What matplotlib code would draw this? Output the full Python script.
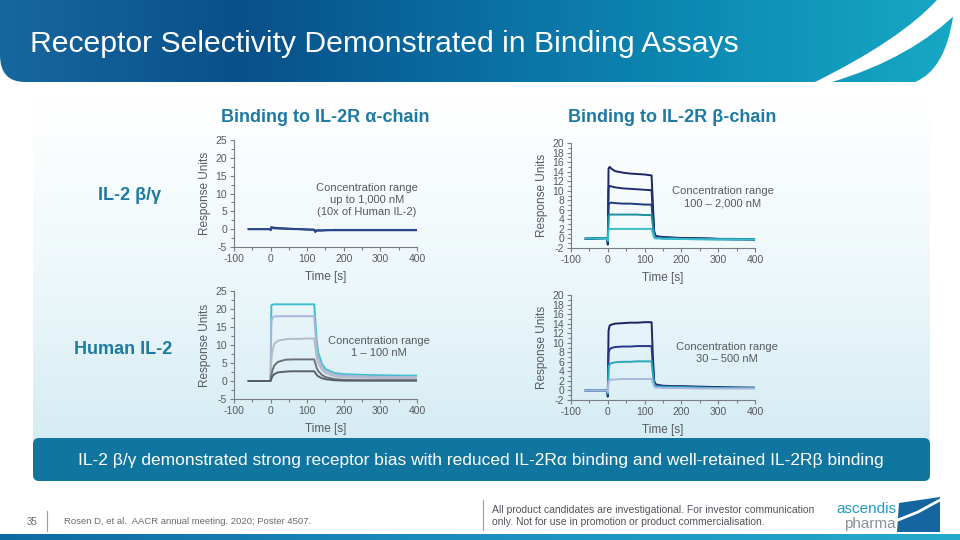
import numpy as np
import matplotlib.pyplot as plt
from matplotlib.path import Path
from matplotlib.patches import PathPatch, FancyBboxPatch
from matplotlib.colors import LinearSegmentedColormap
from matplotlib.ticker import MultipleLocator

plt.rcParams['font.family'] = ['Liberation Sans', 'DejaVu Sans']
plt.rcParams['axes.unicode_minus'] = False

# --- data ---
time_s = [-60, -1, 0, 2, 5, 10, 20, 40, 60, 80, 100, 119, 122, 126, 130,
          140, 150, 175, 200, 250, 300, 350, 400]

# IL-2 beta/gamma on IL-2R alpha-chain (up to 1,000 nM)
alpha_bg = [
    [0.0, 0.0, -0.3, 0.6, 0.5, 0.4, 0.3, 0.2, 0.1, 0.0, -0.1, -0.2, -0.8,
     -0.4, -0.4, -0.4, -0.3, -0.3, -0.3, -0.3, -0.3, -0.3, -0.3],
    [0.0, 0.0, -0.2, 0.3, 0.3, 0.2, 0.2, 0.1, 0.0, 0.0, -0.1, -0.1, -0.5,
     -0.3, -0.3, -0.3, -0.3, -0.2, -0.2, -0.2, -0.2, -0.2, -0.2],
]
alpha_bg_colors = ['#1c2b6e', '#2a4a8c']

# IL-2 beta/gamma on IL-2R beta-chain (100 - 2,000 nM)
beta_bg = [
    [-0.1, 0.1, -1.3, 14.6, 15.0, 14.6, 14.1, 13.8, 13.6, 13.5, 13.4, 13.2, 8.0,
     1.5, 0.5, 0.4, 0.3, 0.2, 0.1, 0.0, -0.1, -0.2, -0.2],
    [-0.1, 0.1, -1.0, 10.5, 11.0, 10.9, 10.7, 10.5, 10.4, 10.3, 10.2, 10.1, 6.0,
     1.2, 0.4, 0.3, 0.2, 0.1, 0.1, 0.0, -0.1, -0.1, -0.2],
    [0.0, 0.1, -0.8, 7.0, 7.4, 7.5, 7.4, 7.3, 7.3, 7.2, 7.1, 7.1, 4.3,
     0.9, 0.3, 0.2, 0.2, 0.1, 0.0, 0.0, -0.1, -0.1, -0.2],
    [0.0, 0.0, -0.6, 4.6, 5.0, 5.0, 5.0, 5.0, 5.0, 5.0, 4.9, 4.9, 3.0,
     0.6, 0.1, 0.1, 0.0, 0.0, -0.1, -0.1, -0.2, -0.2, -0.2],
    [0.0, 0.0, -0.4, 1.8, 2.0, 2.0, 2.0, 2.0, 2.0, 2.0, 2.0, 2.0, 1.2,
     0.2, 0.0, 0.0, -0.1, -0.1, -0.1, -0.2, -0.2, -0.2, -0.2],
]
beta_bg_colors = ['#1b2466', '#232d72', '#1e3a82', '#1d8f9c', '#38bccb']

# Human IL-2 on IL-2R alpha-chain (1 - 100 nM)
alpha_h = [
    [0.0, 0.0, 0.5, 21.0, 21.2, 21.3, 21.3, 21.3, 21.3, 21.3, 21.3, 21.3, 17.0,
     11.0, 8.0, 4.8, 3.3, 2.2, 1.9, 1.7, 1.6, 1.5, 1.5],
    [0.0, 0.0, 0.3, 16.5, 17.6, 17.9, 18.0, 18.0, 18.0, 18.0, 18.0, 18.0, 14.0,
     9.0, 6.5, 4.0, 2.8, 1.8, 1.5, 1.3, 1.2, 1.1, 1.1],
    [0.0, 0.0, 0.2, 6.0, 8.5, 10.3, 11.2, 11.6, 11.7, 11.7, 11.8, 11.8, 9.5,
     6.5, 5.0, 3.2, 2.2, 1.3, 1.0, 0.9, 0.8, 0.8, 0.8],
    [0.0, 0.0, 0.1, 1.5, 3.0, 4.3, 5.3, 5.9, 6.0, 6.0, 6.0, 6.0, 5.0,
     3.6, 2.8, 1.7, 1.1, 0.5, 0.3, 0.2, 0.2, 0.2, 0.2],
    [0.0, 0.0, 0.0, 0.6, 1.3, 1.9, 2.4, 2.6, 2.7, 2.7, 2.7, 2.7, 2.3,
     1.7, 1.3, 0.8, 0.5, 0.2, 0.1, 0.1, 0.1, 0.1, 0.1],
]
alpha_h_colors = ['#3dbfce', '#aab5d9', '#b7bbc2', '#6c7079', '#5a5e68']

# Human IL-2 on IL-2R beta-chain (30 - 500 nM)
beta_h = [
    [0.0, 0.0, -1.3, 12.5, 13.6, 13.8, 14.0, 14.1, 14.2, 14.2, 14.3, 14.3, 8.0,
     2.0, 1.3, 1.1, 1.0, 0.9, 0.9, 0.8, 0.7, 0.6, 0.6],
    [0.0, 0.0, -1.0, 7.8, 8.6, 8.9, 9.1, 9.2, 9.2, 9.3, 9.3, 9.3, 5.5,
     1.7, 1.1, 1.0, 0.9, 0.8, 0.8, 0.7, 0.6, 0.6, 0.5],
    [0.0, 0.0, -0.7, 4.8, 5.5, 5.7, 5.9, 6.0, 6.0, 6.1, 6.1, 6.1, 3.8,
     1.3, 0.9, 0.8, 0.8, 0.7, 0.7, 0.6, 0.5, 0.5, 0.5],
    [0.0, 0.0, -0.4, 1.8, 2.2, 2.3, 2.3, 2.4, 2.4, 2.4, 2.4, 2.4, 1.6,
     0.8, 0.6, 0.6, 0.5, 0.5, 0.5, 0.4, 0.4, 0.4, 0.4],
]
beta_h_colors = ['#1a2566', '#28358a', '#25a8bb', '#aab7dd']

TEAL = '#1d7aa2'
GREY = '#666a70'

fig = plt.figure(figsize=(9.6, 5.4), dpi=100)
bg = fig.add_axes([0, 0, 1, 1])
bg.set_xlim(0, 960)
bg.set_ylim(540, 0)
bg.axis('off')

# --- body background gradient ---
body = LinearSegmentedColormap.from_list('body', ['#ffffff', '#eef8fb', '#d4ecf3'])
bg.imshow(np.linspace(0, 1, 256).reshape(-1, 1), cmap=body, aspect='auto',
          extent=[33, 930, 445, 100], zorder=0)

# --- header band ---
head = LinearSegmentedColormap.from_list(
    'head', ['#17679f', '#08508a', '#0a6ea2', '#0d8db6', '#17a9c4'])
verts = [(0, 0), (953, 0), (953, 17), (945, 70), (915, 82), (25, 82),
         (0, 82), (0, 55), (0, 0)]
codes = [Path.MOVETO, Path.LINETO, Path.LINETO, Path.CURVE3, Path.CURVE3,
         Path.LINETO, Path.CURVE3, Path.CURVE3, Path.CLOSEPOLY]
hdr = PathPatch(Path(verts, codes), facecolor='none', edgecolor='none')
bg.add_patch(hdr)
im = bg.imshow(np.linspace(0, 1, 256).reshape(1, -1), cmap=head, aspect='auto',
               extent=[0, 960, 82, 0], zorder=1)
im.set_clip_path(hdr)
stripe = [(937, 0), (960, 0), (960, 10), (912, 58), (832, 82), (815, 82),
          (900, 40), (937, 0), (937, 0)]
scodes = [Path.MOVETO, Path.LINETO, Path.LINETO, Path.CURVE3, Path.CURVE3,
          Path.LINETO, Path.CURVE3, Path.CURVE3, Path.CLOSEPOLY]
bg.add_patch(PathPatch(Path(stripe, scodes), facecolor='white',
                       edgecolor='none', zorder=2))
bg.text(30, 44, 'Receptor Selectivity Demonstrated in Binding Assays',
        color='white', fontsize=21.7, va='center', ha='left', zorder=3)

# --- column / row headings ---
bg.text(325, 118, 'Binding to IL-2R α-chain', color=TEAL, fontsize=13,
        fontweight='bold', ha='center', va='center')
bg.text(672, 118, 'Binding to IL-2R β-chain', color=TEAL, fontsize=13,
        fontweight='bold', ha='center', va='center')
bg.text(130, 195, 'IL-2 β/γ', color=TEAL, fontsize=13, fontweight='bold',
        ha='center', va='center')
bg.text(123, 350, 'Human IL-2', color=TEAL, fontsize=13, fontweight='bold',
        ha='center', va='center')


def panel(box, ylim, ystep, curves, colors, note, note_x, note_y):
    left, top, right, bottom = box
    ax = fig.add_axes([left / 960, 1 - bottom / 540,
                       (right - left) / 960, (bottom - top) / 540])
    ax.patch.set_alpha(0)
    for vals, c in zip(curves, colors):
        ax.plot(time_s, vals, color=c, lw=1.4)
    ax.set_xlim(-100, 400)
    ax.set_ylim(*ylim)
    ax.xaxis.set_major_locator(MultipleLocator(100))
    ax.xaxis.set_minor_locator(MultipleLocator(50))
    ax.yaxis.set_major_locator(MultipleLocator(ystep))
    ax.yaxis.set_minor_locator(MultipleLocator(ystep / 2))
    for s in ['top', 'right']:
        ax.spines[s].set_visible(False)
    for s in ['left', 'bottom']:
        ax.spines[s].set_color('#7a7e84')
        ax.spines[s].set_linewidth(0.8)
    ax.tick_params(which='both', direction='out', colors='#7a7e84',
                   labelcolor='#555a60', labelsize=7.5, width=0.8)
    ax.tick_params(which='major', length=3, pad=2)
    ax.tick_params(which='minor', length=2)
    ax.set_xlabel('Time [s]', fontsize=8.5, color='#555a60', labelpad=5)
    ax.set_ylabel('Response Units', fontsize=8.5, color='#555a60', labelpad=3)
    bg.text(note_x, note_y, note, color='#555a60', fontsize=8,
            ha='center', va='center', linespacing=1.25)
    return ax


panel((234, 140, 417, 247), (-5, 25), 5, alpha_bg, alpha_bg_colors,
      'Concentration range\nup to 1,000 nM\n(10x of Human IL-2)', 367, 200)
panel((571, 143, 755, 248), (-2, 20), 2, beta_bg, beta_bg_colors,
      'Concentration range\n100 – 2,000 nM', 723, 197)
panel((234, 291, 417, 399), (-5, 25), 5, alpha_h, alpha_h_colors,
      'Concentration range\n1 – 100 nM', 379, 347)
panel((571, 295, 755, 400), (-2, 20), 2, beta_h, beta_h_colors,
      'Concentration range\n30 – 500 nM', 727, 353)

# --- key message banner ---
bg.add_patch(FancyBboxPatch((33, 438), 897, 43, boxstyle='round,pad=0,rounding_size=6',
                            facecolor='#11769f', edgecolor='none', zorder=2))
bg.text(481, 461, 'IL-2 β/γ demonstrated strong receptor bias with reduced '
        'IL-2Rα binding and well-retained IL-2Rβ binding',
        color='white', fontsize=12.5, ha='center', va='center', zorder=3)

# --- footer ---
bg.text(27, 522, '35', color=GREY, fontsize=7, va='center')
bg.plot([47, 47], [511, 531], color='#9a9ea4', lw=0.8)
bg.text(64, 522, 'Rosen D, et al.  AACR annual meeting. 2020; Poster 4507.',
        color=GREY, fontsize=6.8, va='center')
bg.plot([483, 483], [500, 530], color='#9a9ea4', lw=0.8)
bg.text(492, 516, 'All product candidates are investigational. For investor communication\n'
        'only. Not for use in promotion or product commercialisation.',
        color='#50545a', fontsize=7.5, va='center', linespacing=1.3)
bg.text(866, 509, 'ascendis', color='#1b9cc4', fontsize=11, ha='center', va='center')
bg.text(870, 524, 'pharma', color='#8a8f96', fontsize=11, ha='center', va='center')
logo = [(899, 503), (940, 497), (940, 532), (897, 532), (899, 503)]
bg.add_patch(plt.Polygon(logo, closed=True, facecolor='#1566a0', edgecolor='none'))
bg.plot([898, 918, 940], [520, 512, 500], color='white', lw=2)
bot = LinearSegmentedColormap.from_list('bot', ['#0f6aa3', '#1c8fc0', '#25aacb'])
bg.imshow(np.linspace(0, 1, 256).reshape(1, -1), cmap=bot, aspect='auto',
          extent=[0, 960, 540, 534], zorder=1)

fig.savefig('out.png', dpi=100)
